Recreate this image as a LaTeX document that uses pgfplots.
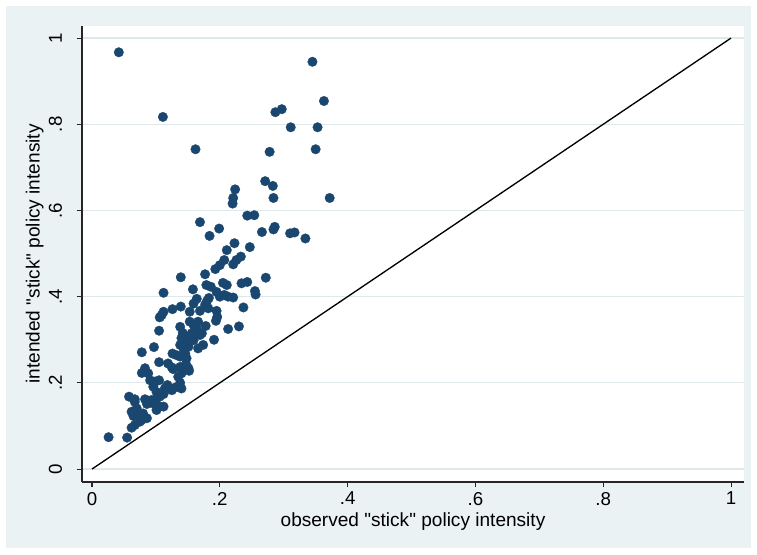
\documentclass[border=0pt]{standalone}
\usepackage{pgfplots}
\pgfplotsset{compat=1.18}
\usepackage{fontspec}
\setmainfont{Liberation Sans}
\definecolor{bgblue}{HTML}{EAF2F3}
\definecolor{gridc}{HTML}{DFE9EC}
\definecolor{stnavy}{HTML}{1A476F}
\pgfplotstableread{
x y
0.042 0.967
0.345 0.945
0.363 0.854
0.111 0.817
0.287 0.828
0.297 0.835
0.311 0.793
0.353 0.793
0.162 0.742
0.278 0.736
0.350 0.742
0.271 0.668
0.283 0.657
0.284 0.629
0.372 0.629
0.224 0.649
0.221 0.629
0.220 0.616
0.243 0.588
0.254 0.589
0.169 0.573
0.184 0.541
0.199 0.558
0.266 0.550
0.284 0.556
0.286 0.562
0.310 0.547
0.317 0.549
0.334 0.535
0.223 0.524
0.211 0.508
0.247 0.515
0.233 0.493
0.226 0.485
0.221 0.475
0.207 0.485
0.200 0.473
0.193 0.464
0.139 0.445
0.177 0.452
0.272 0.444
0.234 0.431
0.243 0.434
0.255 0.413
0.256 0.405
0.205 0.432
0.211 0.427
0.179 0.427
0.186 0.423
0.112 0.409
0.158 0.417
0.195 0.411
0.200 0.400
0.207 0.404
0.213 0.400
0.221 0.398
0.183 0.397
0.180 0.390
0.177 0.381
0.164 0.395
0.159 0.384
0.153 0.365
0.139 0.377
0.126 0.371
0.112 0.365
0.109 0.357
0.106 0.352
0.169 0.367
0.182 0.373
0.195 0.367
0.196 0.353
0.194 0.344
0.237 0.375
0.138 0.330
0.153 0.342
0.159 0.334
0.166 0.342
0.164 0.326
0.178 0.332
0.105 0.321
0.213 0.325
0.230 0.331
0.142 0.316
0.140 0.304
0.148 0.307
0.156 0.315
0.161 0.319
0.169 0.311
0.159 0.299
0.151 0.295
0.138 0.288
0.143 0.280
0.151 0.284
0.191 0.300
0.174 0.288
0.166 0.280
0.097 0.283
0.078 0.271
0.126 0.268
0.133 0.264
0.138 0.261
0.146 0.268
0.148 0.257
0.105 0.248
0.119 0.245
0.125 0.236
0.083 0.234
0.078 0.223
0.088 0.222
0.138 0.237
0.147 0.244
0.152 0.228
0.140 0.222
0.135 0.214
0.091 0.206
0.099 0.203
0.105 0.206
0.096 0.191
0.101 0.179
0.118 0.195
0.114 0.187
0.125 0.183
0.130 0.189
0.138 0.200
0.140 0.187
0.058 0.168
0.067 0.162
0.083 0.162
0.093 0.160
0.101 0.164
0.106 0.168
0.112 0.174
0.086 0.151
0.096 0.152
0.106 0.145
0.101 0.137
0.062 0.133
0.070 0.141
0.065 0.123
0.072 0.125
0.080 0.129
0.086 0.118
0.078 0.114
0.062 0.096
0.067 0.102
0.026 0.074
0.055 0.073
0.127 0.232
0.151 0.234
0.112 0.145
0.075 0.110
0.067 0.156
0.146 0.292
0.172 0.315
}\scatterdata
\begin{document}
\begin{tikzpicture}
\fill[white] (0pt,0pt) rectangle (567.75pt,415.5pt);
\fill[bgblue] (4.5pt,4.5pt) rectangle (563.25pt,411pt);
\begin{axis}[
  at={(61.5pt,54pt)}, anchor=south west,
  scale only axis, width=496.5pt, height=342pt,
  axis background/.style={fill=white},
  axis x line*=bottom, axis y line*=left,
  axis line style={black!85, line width=0.8pt},
  xmin=-0.0156, xmax=1.0203, ymin=-0.030, ymax=1.028,
  xtick={0,0.2,0.4,0.6,0.8,1}, xticklabels={0,.2,.4,.6,.8,1},
  ytick={0,0.2,0.4,0.6,0.8,1}, yticklabels={0,.2,.4,.6,.8,1},
  tick align=outside, major tick length=4pt,
  tick style={black!85, line width=0.8pt},
  ymajorgrids, major grid style={gridc, line width=0.9pt},
  ticklabel style={font=\fontsize{14}{16}\selectfont},
  yticklabel style={rotate=90, anchor=south},
  yticklabel shift=7.5pt,
  label style={font=\fontsize{14.3}{16}\selectfont},
  xlabel={observed \textquotedbl stick\textquotedbl\ policy intensity},
  ylabel={intended \textquotedbl stick\textquotedbl\ policy intensity},
  xlabel style={yshift=1pt},
  ylabel style={yshift=-3pt},
  clip=false,
]
\addplot[only marks, mark=*, mark size=3.6pt, mark options={fill=stnavy, draw=stnavy, line width=0.2pt}] table[x=x,y=y] {\scatterdata};
\addplot[black, line width=1pt] coordinates {(0,0) (1,1)};
\end{axis}
\end{tikzpicture}
\end{document}
